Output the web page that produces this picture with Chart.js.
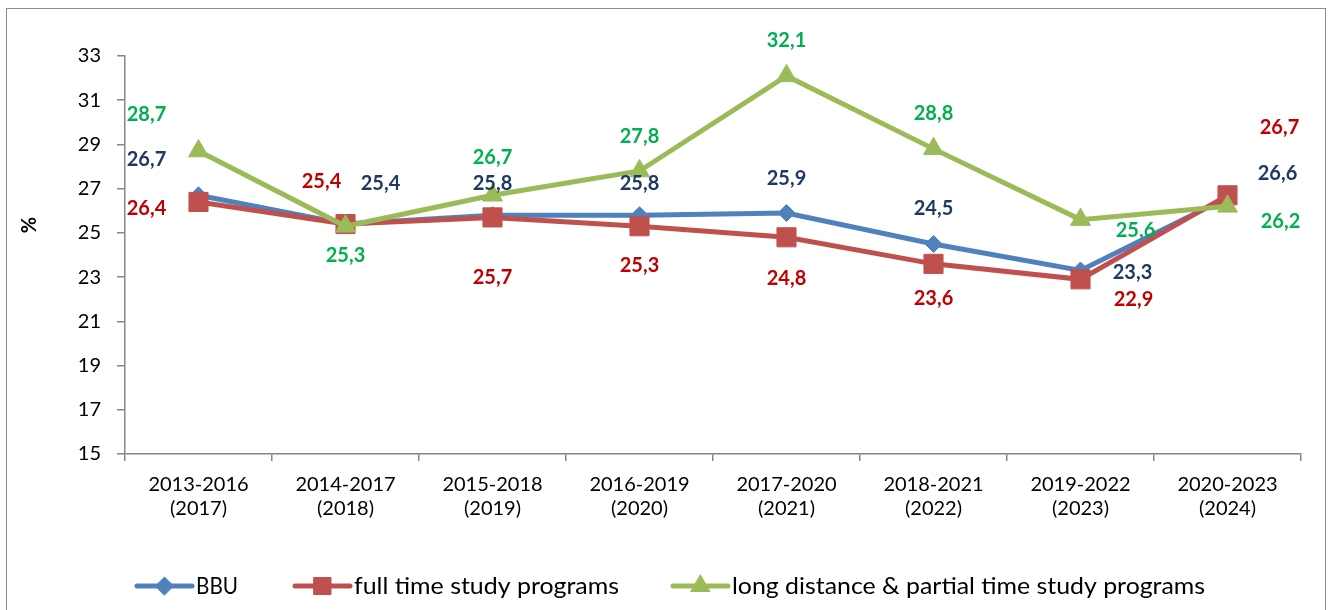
<!DOCTYPE html>
<html>
<head>
<meta charset="utf-8">
<script src="https://cdn.jsdelivr.net/npm/chart.js@4.4.1/dist/chart.umd.min.js"></script>
<style>
  html, body { margin: 0; padding: 0; background: #fff; }
  #wrap { position: relative; width: 1331px; height: 610px; }
</style>
</head>
<body>
<div id="wrap"><canvas id="chart" width="1331" height="610"></canvas></div>
<script>
// — data —
const categories = [
  ['2013-2016', '(2017)'], ['2014-2017', '(2018)'], ['2015-2018', '(2019)'], ['2016-2019', '(2020)'],
  ['2017-2020', '(2021)'], ['2018-2021', '(2022)'], ['2019-2022', '(2023)'], ['2020-2023', '(2024)']
];
const bbu          = [26.7, 25.4, 25.8, 25.8, 25.9, 24.5, 23.3, 26.6];
const fullTime     = [26.4, 25.4, 25.7, 25.3, 24.8, 23.6, 22.9, 26.7];
const longDistance = [28.7, 25.3, 26.7, 27.8, 32.1, 28.8, 25.6, 26.2];
const seriesNames  = ['BBU', 'full time study programs', 'long distance & partial time study programs'];
const yTicks       = { min: 15, max: 33, step: 2 };

// label offsets (px) from each point, as placed in the original
const offBBU  = [[-52,-36],[35,-40],[0,-32],[0,-32],[0,-34],[0,-35],[52,2],[50,-24]];
const offFull = [[-52,7],[-24,-42],[0,60],[0,39],[0,41],[0,35],[53,20],[52,-68]];
const offLong = [[-52,-37],[0,29],[0,-38],[0,-34],[0,-35],[0,-35],[55,11],[53,15]];

// legend layout: line start x and text width, as in the original
const legendX = [137, 295, 673];
const legendW = [42, 265, 473];

const FONT = 'Lato, "Open Sans", sans-serif';
const AXIS = '#868686';

const styles = [
  { line: '#4F81BD', label: '#1F3864', point: 'rectRot',  r: 8.5,  lr: 9,  off: offBBU },
  { line: '#C0504D', label: '#C00000', point: 'rect',     r: 13.5, lr: 12, off: offFull },
  { line: '#9BBB59', label: '#00B050', point: 'triangle', r: 11.5, lr: 11, off: offLong },
];

const fmt = v => v.toFixed(1).replace('.', ',');

const extras = {
  id: 'extras',
  beforeDraw(chart) {
    const ctx = chart.ctx;
    ctx.save();
    ctx.strokeStyle = '#8c8c8c';
    ctx.lineWidth = 1;
    ctx.strokeRect(6.5, 8.5, 1319, 700);
    ctx.restore();
  },
  afterDatasetsDraw(chart) {
    const ctx = chart.ctx;
    ctx.save();
    ctx.font = 'bold 20px ' + FONT;
    ctx.textAlign = 'center';
    ctx.textBaseline = 'middle';
    chart.data.datasets.forEach((ds, di) => {
      const meta = chart.getDatasetMeta(di);
      const st = styles[di];
      ctx.fillStyle = st.label;
      meta.data.forEach((pt, i) => {
        ctx.fillText(fmt(ds.data[i]), pt.x + st.off[i][0], pt.y + st.off[i][1]);
      });
    });

    // y axis title
    ctx.save();
    ctx.translate(30, 225);
    ctx.rotate(-Math.PI / 2);
    ctx.fillStyle = '#000';
    ctx.font = 'bold 20px ' + FONT;
    ctx.fillText('%', 0, 0);
    ctx.restore();

    // legend
    const ly = 586;
    ctx.font = '23px ' + FONT;
    ctx.textAlign = 'left';
    styles.forEach((st, i) => {
      const x0 = legendX[i];
      ctx.strokeStyle = st.line;
      ctx.fillStyle = st.line;
      ctx.lineWidth = 5;
      ctx.lineCap = 'round';
      ctx.beginPath();
      ctx.moveTo(x0, ly);
      ctx.lineTo(x0 + 55, ly);
      ctx.stroke();
      ctx.lineWidth = 1;
      Chart.helpers.drawPoint(ctx, { pointStyle: st.point, radius: st.lr, rotation: 0, borderWidth: 1 }, x0 + 27.5, ly);
      ctx.fillStyle = '#000';
      const w = ctx.measureText(seriesNames[i]).width;
      ctx.save();
      ctx.translate(x0 + 59, ly + 1);
      ctx.scale(legendW[i] / w, 1);
      ctx.fillText(seriesNames[i], 0, 0);
      ctx.restore();
    });
    ctx.restore();
  }
};

const datasets = [bbu, fullTime, longDistance].map((d, i) => ({
  label: seriesNames[i],
  data: d,
  borderColor: styles[i].line,
  backgroundColor: styles[i].line,
  borderWidth: 5,
  pointStyle: styles[i].point,
  pointRadius: styles[i].r,
  pointHoverRadius: styles[i].r,
  pointBorderWidth: 1,
  tension: 0,
  order: 3 - i,
}));

new Chart(document.getElementById('chart'), {
  type: 'line',
  data: { labels: categories, datasets },
  options: {
    responsive: false,
    animation: false,
    layout: { padding: { top: 56, right: 30, left: 0, bottom: 0 } },
    plugins: { legend: { display: false }, tooltip: { enabled: false } },
    scales: {
      x: {
        offset: true,
        afterFit: s => { s.height = 156; },
        grid: { offset: true, drawOnChartArea: false, drawTicks: true, tickLength: 7, color: AXIS, lineWidth: 1.5 },
        border: { color: AXIS, width: 1.5 },
        ticks: { color: '#000', font: { family: FONT, size: 20 }, padding: 12, maxRotation: 0, autoSkip: false },
      },
      y: {
        min: yTicks.min, max: yTicks.max,
        afterFit: s => { s.width = 125; },
        grid: { drawOnChartArea: false, drawTicks: true, tickLength: 8, color: AXIS, lineWidth: 1.5 },
        border: { color: AXIS, width: 1.5 },
        ticks: { stepSize: yTicks.step, color: '#000', font: { family: FONT, size: 20 }, padding: 16 },
      },
    },
  },
  plugins: [extras],
});
</script>
</body>
</html>
